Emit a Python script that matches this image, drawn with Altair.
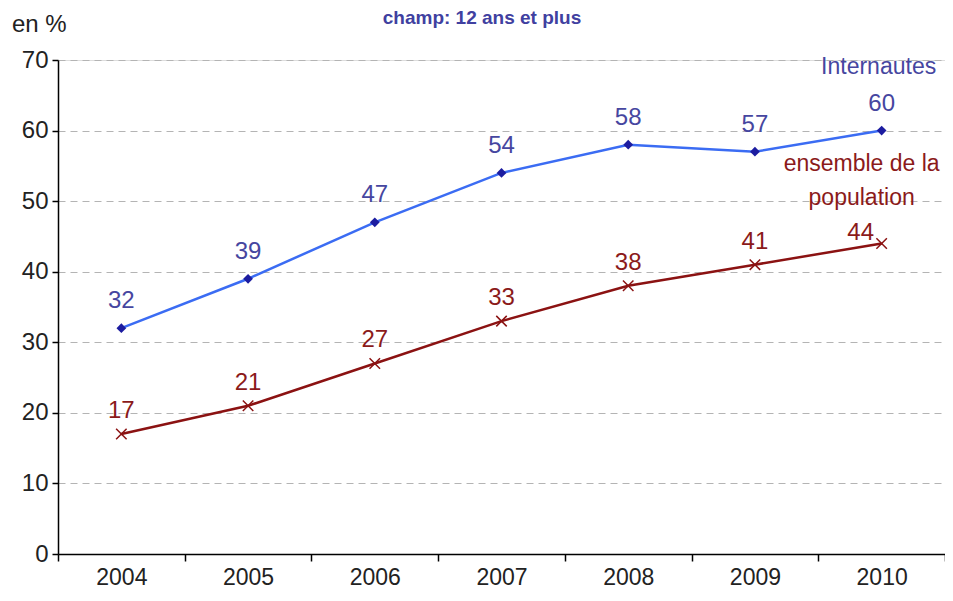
import altair as alt
import pandas as pd

years = ["2004", "2005", "2006", "2007", "2008", "2009", "2010"]
internautes = [32, 39, 47, 54, 58, 57, 60]
ensemble = [17, 21, 27, 33, 38, 41, 44]
series_names = ["Internautes", "ensemble de la population"]
y_ticks = [0, 10, 20, 30, 40, 50, 60, 70]

FONT = "Liberation Sans"
BLUE_LINE = "#3b6cf3"
BLUE_MARK = "#1c1ca0"
BLUE_TEXT = "#4646a0"
RED = "#8b1212"
RED_TEXT = "#8b1a1a"

rows = []
for y, v in zip(years, internautes):
    rows.append({"year": y, "value": v, "series": series_names[0]})
for y, v in zip(years, ensemble):
    rows.append({"year": y, "value": v, "series": series_names[1]})
df = pd.DataFrame(rows)
df_blue = df[df.series == series_names[0]]
df_red = df[df.series == series_names[1]]

W, H = 887, 494

xscale = alt.Scale(domain=years, paddingInner=0, paddingOuter=0)
yscale = alt.Scale(domain=[0, 70], nice=False)

x_enc = alt.X("year:O", scale=xscale, title=None,
              axis=alt.Axis(labelAngle=0, tickBand="extent", labelFont=FONT,
                            labelFontSize=23, labelColor="#222222", labelPadding=5,
                            tickSize=7, tickColor="#000000", tickWidth=1.5,
                            domainColor="#000000", domainWidth=1.5, grid=False))
y_enc = alt.Y("value:Q", scale=yscale, title=None,
              axis=alt.Axis(values=y_ticks, labelFont=FONT, labelFontSize=24,
                            labelColor="#222222", labelPadding=4, tickSize=6,
                            tickColor="#000000", tickWidth=1.5, domainColor="#000000",
                            domainWidth=1.5, grid=True, gridColor="#b4b4b4",
                            gridDash=[7, 5], gridWidth=1))

blue_line = alt.Chart(df_blue).mark_line(color=BLUE_LINE, strokeWidth=2.5).encode(x=x_enc, y=y_enc)
blue_pts = alt.Chart(df_blue).mark_point(shape="diamond", filled=True, color=BLUE_MARK,
                                         size=95, opacity=1).encode(x=x_enc, y=y_enc)
blue_lbl = alt.Chart(df_blue).mark_text(font=FONT, fontSize=24, color=BLUE_TEXT,
                                        baseline="alphabetic", dy=-20).encode(
    x=x_enc, y=y_enc, text="value:Q")

red_line = alt.Chart(df_red).mark_line(color=RED, strokeWidth=2.5).encode(x=x_enc, y=y_enc)
red_pts = alt.Chart(df_red).mark_point(shape="M-1,-1L1,1M-1,1L1,-1", filled=False,
                                       color=RED, strokeWidth=1.5, size=110,
                                       opacity=1).encode(x=x_enc, y=y_enc)
red_lbl = alt.Chart(df_red[df_red.year != "2010"]).mark_text(
    font=FONT, fontSize=24, color=RED_TEXT, baseline="alphabetic", dy=-16).encode(
    x=x_enc, y=y_enc, text="value:Q")
red_lbl_last = alt.Chart(df_red[df_red.year == "2010"]).mark_text(
    font=FONT, fontSize=24, color=RED_TEXT, baseline="alphabetic", dx=-21, dy=-3).encode(
    x=x_enc, y=y_enc, text="value:Q")

ann = pd.DataFrame({"year": ["2010", "2010", "2010"],
                    "value": [69.0, 55.2, 50.4],
                    "label": ["Internautes", "ensemble de la", "population"],
                    "series": [series_names[0], series_names[1], series_names[1]]})
ann_blue = alt.Chart(ann[ann.series == series_names[0]]).mark_text(
    font=FONT, fontSize=23, color=BLUE_TEXT, baseline="middle", dx=-3).encode(
    x=x_enc, y=y_enc, text="label:N")
ann_red = alt.Chart(ann[ann.series == series_names[1]]).mark_text(
    font=FONT, fontSize=23, color=RED_TEXT, baseline="middle", dx=-20).encode(
    x=x_enc, y=y_enc, text="label:N")

titles = pd.DataFrame({"t": ["champ: 12 ans et plus"]})
title_mark = alt.Chart(titles).mark_text(font=FONT, fontSize=19, fontWeight="bold",
                                         color="#4040a0", baseline="middle",
                                         align="center").encode(
    x=alt.value(424), y=alt.value(-42), text="t:N")
units = pd.DataFrame({"t": ["en %"]})
unit_mark = alt.Chart(units).mark_text(font=FONT, fontSize=24, color="#222222",
                                       baseline="middle", align="left").encode(
    x=alt.value(-46), y=alt.value(-35), text="t:N")

chart = alt.layer(blue_line, red_line, blue_pts, red_pts, blue_lbl, red_lbl,
                  red_lbl_last, ann_blue, ann_red, title_mark, unit_mark).properties(
    width=W, height=H,
    autosize=alt.AutoSizeParams(type="none"),
    padding={"left": 50, "top": 52, "right": 0, "bottom": 34},
).configure_view(stroke="#8c8c8c", strokeWidth=1.5).configure(background="white")

chart.save("out.html", embed_options={"renderer": "svg", "actions": False})
